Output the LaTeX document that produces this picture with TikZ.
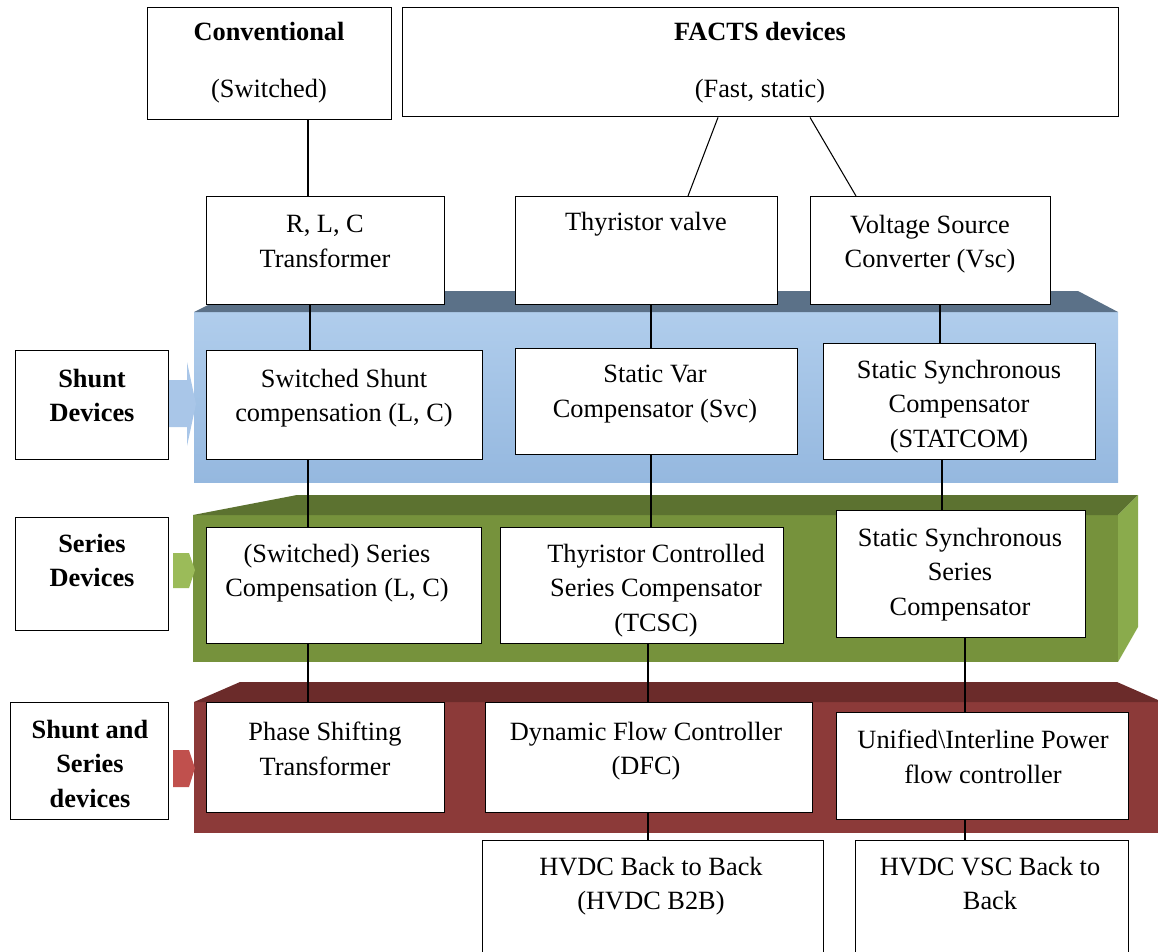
\documentclass[tikz,border=0pt]{standalone}
\usepackage{fontspec}
\setmainfont{Liberation Serif}
\usepackage{tikz}
\usetikzlibrary{positioning}
\definecolor{shuntfront}{HTML}{B0CDEC}
\definecolor{shuntfrontdark}{HTML}{95B8DF}
\definecolor{shunttop}{HTML}{5B7188}
\definecolor{shuntarrow}{HTML}{A9C6E8}
\definecolor{seriesfront}{HTML}{76923C}
\definecolor{seriestop}{HTML}{5C7230}
\definecolor{seriesside}{HTML}{8AAB4C}
\definecolor{seriesarrow}{HTML}{9BBB59}
\definecolor{bothfront}{HTML}{8C3A39}
\definecolor{bothtop}{HTML}{6B2B2A}
\definecolor{botharrow}{HTML}{C0504D}
\newcommand{\pxunit}{0.2mm}
\tikzstyle{devbox}=[draw=black,fill=white,line width=0.8pt,anchor=north west,inner sep=0pt]
\tikzstyle{devtext}=[align=center,inner sep=0pt,anchor=north,font=\fontsize{15}{19.5}\selectfont]
\tikzstyle{grouptext}=[devtext,font=\fontsize{15}{19.5}\selectfont\bfseries]
\tikzstyle{link}=[line width=0.6pt]

\begin{document}
\begin{tikzpicture}[x=\pxunit,y=-\pxunit]
  \clip (0,0) rectangle (1158,951);

  \shade[top color=shuntfront,bottom color=shuntfrontdark] (194,312) rectangle (1118,482);
  \fill[shunttop] (194,312) -- (236,291) -- (1078,291) -- (1118,312) -- cycle;
  \fill[seriesfront] (193,515) rectangle (1118,662);
  \fill[seriestop] (193,515) -- (297,495) -- (1138,495) -- (1118,515) -- cycle;
  \fill[seriesside] (1118,515) -- (1138,495) -- (1138,627) -- (1118,662) -- cycle;
  \fill[bothfront] (194,702) rectangle (1158,833);
  \fill[bothtop] (194,702) -- (240,682) -- (1117,682) -- (1158,700) -- (1158,702) -- cycle;

  \fill[shuntarrow] (168,380) -- (187,380) -- (187,362) -- (196,404) -- (187,446) -- (187,427) -- (168,427) -- cycle;
  \fill[seriesarrow] (173,553) -- (189,553) -- (195,570) -- (189,588) -- (173,588) -- cycle;
  \fill[botharrow] (173,750) -- (189,750) -- (195,768) -- (189,787) -- (173,787) -- cycle;

  \node[devbox,minimum width=244*\pxunit,minimum height=112*\pxunit] (conv) at (147,7) {};
  \node[devbox,minimum width=716*\pxunit,minimum height=109*\pxunit] (facts) at (402,7) {};
  \node[devbox,minimum width=238*\pxunit,minimum height=108*\pxunit] (rlc) at (206,196) {};
  \node[devbox,minimum width=262*\pxunit,minimum height=108*\pxunit] (thy) at (515,196) {};
  \node[devbox,minimum width=240*\pxunit,minimum height=108*\pxunit] (vsc) at (810,196) {};
  \node[devbox,minimum width=153*\pxunit,minimum height=109*\pxunit] (shuntlbl) at (15,350) {};
  \node[devbox,minimum width=276*\pxunit,minimum height=109*\pxunit] (ssc) at (206,350) {};
  \node[devbox,minimum width=282*\pxunit,minimum height=106*\pxunit] (svc) at (515,348) {};
  \node[devbox,minimum width=272*\pxunit,minimum height=116*\pxunit] (statcom) at (823,343) {};
  \node[devbox,minimum width=153*\pxunit,minimum height=113*\pxunit] (serieslbl) at (15,517) {};
  \node[devbox,minimum width=275*\pxunit,minimum height=116*\pxunit] (sersc) at (206,527) {};
  \node[devbox,minimum width=283*\pxunit,minimum height=116*\pxunit] (tcsc) at (500,527) {};
  \node[devbox,minimum width=249*\pxunit,minimum height=127*\pxunit] (sssc) at (836,510) {};
  \node[devbox,minimum width=158*\pxunit,minimum height=117*\pxunit] (bothlbl) at (10,702) {};
  \node[devbox,minimum width=238*\pxunit,minimum height=110*\pxunit] (pst) at (206,702) {};
  \node[devbox,minimum width=327*\pxunit,minimum height=110*\pxunit] (dfc) at (485,702) {};
  \node[devbox,minimum width=292*\pxunit,minimum height=107*\pxunit] (upfc) at (836,712) {};
  \node[devbox,minimum width=341*\pxunit,minimum height=130*\pxunit] (b2b) at (482,840) {};
  \node[devbox,minimum width=273*\pxunit,minimum height=130*\pxunit] (hvsc) at (855,840) {};

  \node[grouptext] (conv-t) at (269,22) {Conventional};
  \node[devtext] (conv-s) at (269,79) {(Switched)};
  \node[grouptext] (facts-t) at (760,22) {FACTS devices};
  \node[devtext] (facts-s) at (760,79) {(Fast, static)};
  \node[devtext] (rlc-t) at (325,215) {R, L, C\\Transformer};
  \node[devtext] (thy-t) at (646,212) {Thyristor valve};
  \node[devtext] (vsc-t) at (930,215) {Voltage Source\\Converter (Vsc)};
  \node[grouptext] (shuntlbl-t) at (92,369) {Shunt\\Devices};
  \node[devtext] (ssc-t) at (344,369) {Switched Shunt\\compensation (L, C)};
  \node[devtext] (svc-t) at (655,365) {Static Var\\Compensator (Svc)};
  \node[devtext] (statcom-t) at (959,360) {Static Synchronous\\Compensator\\(STATCOM)};
  \node[grouptext] (serieslbl-t) at (92,534) {Series\\Devices};
  \node[devtext] (sersc-t) at (337,544) {(Switched) Series\\Compensation (L, C)};
  \node[devtext] (tcsc-t) at (656,544) {Thyristor Controlled\\Series Compensator\\(TCSC)};
  \node[devtext] (sssc-t) at (960,528) {Static Synchronous\\Series\\Compensator};
  \node[grouptext] (bothlbl-t) at (90,720) {Shunt and\\Series\\devices};
  \node[devtext] (pst-t) at (325,722) {Phase Shifting\\Transformer};
  \node[devtext] (dfc-t) at (646,722) {Dynamic Flow Controller\\(DFC)};
  \node[devtext] (upfc-t) at (983,730) {Unified\textbackslash Interline Power\\flow controller};
  \node[devtext] (b2b-t) at (651,857) {HVDC Back to Back\\(HVDC B2B)};
  \node[devtext] (hvsc-t) at (990,857) {HVDC VSC Back to\\Back};

  \draw[link] (conv.south -| 308,0) -- (rlc.north -| 308,0);
  \draw[link] (facts.south -| 718,0) -- (thy.north -| 688,0);
  \draw[link] (facts.south -| 810,0) -- (vsc.north -| 856,0);
  \draw[link] (rlc.south -| 310,0) -- (ssc.north -| 310,0);
  \draw[link] (thy.south -| 651,0) -- (svc.north -| 651,0);
  \draw[link] (vsc.south -| 940,0) -- (statcom.north -| 940,0);
  \draw[link] (ssc.south -| 308,0) -- (sersc.north -| 308,0);
  \draw[link] (svc.south -| 651,0) -- (tcsc.north -| 651,0);
  \draw[link] (statcom.south -| 942,0) -- (sssc.north -| 942,0);
  \draw[link] (sersc.south -| 308,0) -- (pst.north -| 308,0);
  \draw[link] (tcsc.south -| 648,0) -- (dfc.north -| 648,0);
  \draw[link] (sssc.south -| 965,0) -- (upfc.north -| 965,0);
  \draw[link] (dfc.south -| 648,0) -- (b2b.north -| 648,0);
  \draw[link] (upfc.south -| 965,0) -- (hvsc.north -| 965,0);
\end{tikzpicture}
\end{document}
